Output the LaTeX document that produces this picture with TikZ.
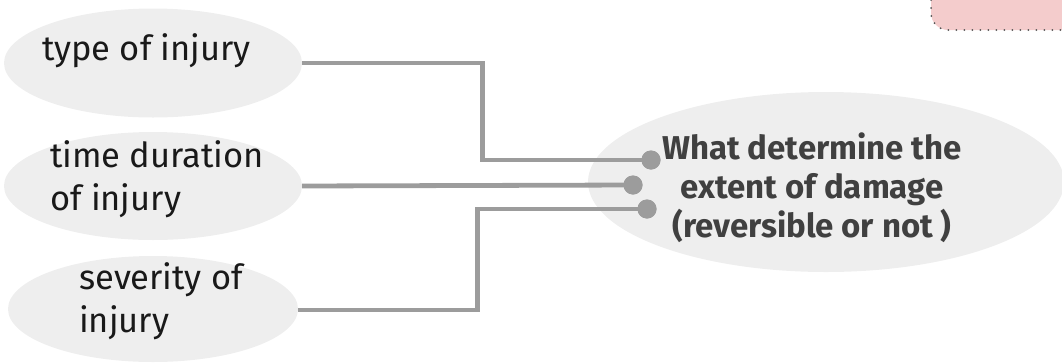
\documentclass[tikz,border=0pt]{standalone}
\usepackage{fontspec}
\setmainfont{Fira Sans}
\usetikzlibrary{shapes.geometric}
\definecolor{bubble}{HTML}{EEEEEE}
\definecolor{wire}{HTML}{9C9C9C}
\definecolor{note}{HTML}{F4CCCC}
\definecolor{notedots}{HTML}{555555}
\definecolor{hubtext}{HTML}{404040}
\tikzset{
  bubble/.style={ellipse, fill=bubble, draw=none, inner sep=0pt},
  leftlabel/.style={anchor=base west, inner sep=0pt, align=left, text=black!90,
    font=\fontsize{34.5}{43}\selectfont},
  hublabel/.style={anchor=base, inner sep=0pt, align=center, text=hubtext,
    font=\bfseries\fontsize{33}{39}\selectfont},
  wire/.style={draw=wire, line width=4.8pt},
  pin/.style={circle, fill=wire, minimum size=19pt, inner sep=0pt},
}
\begin{document}
\begin{tikzpicture}[x=1pt, y=-1pt]
\useasboundingbox (0,0) rectangle (1062,362);
% note card in the corner
\fill[note, rounded corners=17pt] (931,-40) rectangle (1100,30);
\draw[draw=notedots, line width=2pt, line cap=round,
      dash pattern=on 0pt off 8pt, rounded corners=17pt]
  (931,-40) -- (931,30) -- (1100,30);

% cause bubbles
\node[bubble, minimum width=298pt, minimum height=109pt] (e1) at (153,63) {};
\node[bubble, minimum width=298pt, minimum height=108pt] (e2) at (153,186) {};
\node[bubble, minimum width=290pt, minimum height=106pt] (e3) at (153,309) {};
% central bubble
\node[bubble, minimum width=476pt, minimum height=180pt] (hub) at (826,182) {};

% labels (the base anchor sits on the last line)
\node[leftlabel] (t1) at (42,60) {type of injury};
\node[leftlabel] (t2) at (50,210) {time duration\\of injury};
\node[leftlabel] (t3) at (79,332) {severity of\\injury};

\node[hublabel] (th) at (812,237) {What determine the\\extent of damage\\(reversible or not )};

% connector pins
\node[pin] (d1) at (651,160) {};
\node[pin] (d2) at (633,185) {};
\node[pin] (d3) at (647,209) {};

% connectors
\draw[wire] (e1.east) -- ++(180,0) |- (d1.center);
\draw[wire] (e2.east) -- (d2.center);
\draw[wire] (e3.east |- 0,310) -- ++(179,0) |- (d3.center);
\node[pin] at (d1) {};
\node[pin] at (d2) {};
\node[pin] at (d3) {};
\end{tikzpicture}
\end{document}
